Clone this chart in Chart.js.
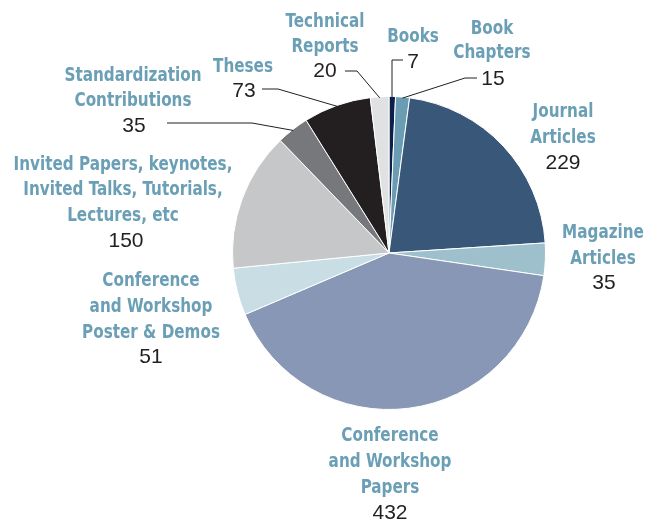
<!DOCTYPE html>
<html>
<head>
<meta charset="utf-8">
<script src="https://cdn.jsdelivr.net/npm/chart.js@4.4.1/dist/chart.umd.min.js"></script>
<style>
  html, body { margin: 0; padding: 0; background: #fff; }
  #wrap { width: 651px; height: 525px; }
</style>
</head>
<body>
<div id="wrap"><canvas id="pie" width="651" height="525"></canvas></div>
<script>
// publication counts, clockwise from the top
const categories = [
  'Books',
  'Book\nChapters',
  'Journal\nArticles',
  'Magazine\nArticles',
  'Conference\nand Workshop\nPapers',
  'Conference\nand Workshop\nPoster & Demos',
  'Invited Papers, keynotes,\nInvited Talks, Tutorials,\nLectures, etc',
  'Standardization\nContributions',
  'Theses',
  'Technical\nReports'
]
const counts = [7, 15, 229, 35, 432, 51, 150, 35, 73, 20]
const sliceColors = [
  '#0b1f4a', '#6a9db3', '#395779', '#9dc0cc', '#8797b5',
  '#c8dde4', '#c6c7c9', '#77787b', '#231f20', '#e0e1e3'
]

// where each label sits (x centre, baselines of the name lines, number) and the leader bends
const labelLayout = [
  { x: 413, lines: [42], num: [413, 68], leader: [[392, 60], [403, 60]], vertical: true },
  { x: 492, lines: [34, 58], num: [493, 85], leader: [[465, 78], [477, 78]] },
  { x: 563, lines: [117, 143], num: [563, 169] },
  { x: 603, lines: [238, 264], num: [604, 289] },
  { x: 390, lines: [441, 467, 493], num: [390, 519] },
  { x: 151, lines: [286, 312, 338], num: [151, 363] },
  { x: 123, lines: [170, 195, 221], num: [126, 247] },
  { x: 133, lines: [81, 106], num: [134, 132], leader: [[252, 123], [167, 123]] },
  { x: 243, lines: [72], num: [244, 97], leader: [[278, 89], [262, 89]] },
  { x: 325, lines: [27, 52], num: [325, 77], leader: [[357, 71], [345, 71]] }
]

const labelFont = 'bold 19px "DejaVu Sans Condensed", sans-serif'
const labelSqueeze = 0.89   // the original type is narrower than DejaVu Condensed
const numFont = '21px "Liberation Sans", Arial, sans-serif'

const pieLabels = {
  id: 'pieLabels',
  afterDatasetsDraw(chart) {
    const ctx = chart.ctx
    const arcs = chart.getDatasetMeta(0).data
    ctx.save()
    arcs.forEach((arc, i) => {
      const lay = labelLayout[i]
      if (!lay) return
      // leader line from the middle of the slice edge
      if (lay.leader) {
        const p = arc.getProps(['x', 'y', 'startAngle', 'endAngle', 'outerRadius'], true)
        const mid = (p.startAngle + p.endAngle) / 2
        let sx = p.x + Math.cos(mid) * (p.outerRadius - 1)
        let sy = p.y + Math.sin(mid) * (p.outerRadius - 1)
        ctx.beginPath()
        if (lay.vertical) sx = lay.leader[0][0]
        ctx.moveTo(sx, sy)
        lay.leader.forEach(pt => ctx.lineTo(pt[0], pt[1]))
        ctx.strokeStyle = '#231f20'
        ctx.lineWidth = 1
        ctx.stroke()
      }
      ctx.textAlign = 'center'
      ctx.textBaseline = 'alphabetic'
      ctx.font = labelFont
      ctx.fillStyle = '#6a9fb5'
      categories[i].split('\n').forEach((line, k) => {
        ctx.save()
        ctx.translate(lay.x, lay.lines[k])
        ctx.scale(labelSqueeze, 1)
        ctx.fillText(line, 0, 0)
        ctx.restore()
      })
      ctx.font = numFont
      ctx.fillStyle = '#231f20'
      ctx.fillText(String(counts[i]), lay.num[0], lay.num[1])
    })
    ctx.restore()
  }
}

new Chart(document.getElementById('pie').getContext('2d'), {
  type: 'pie',
  data: {
    labels: categories,
    datasets: [{
      data: counts,
      backgroundColor: sliceColors,
      borderColor: '#ffffff',
      borderWidth: 1
    }]
  },
  options: {
    responsive: false,
    animation: false,
    layout: { padding: { left: 232, right: 105, top: 96, bottom: 115 } },
    plugins: {
      legend: { display: false },
      tooltip: { enabled: false }
    }
  },
  plugins: [pieLabels]
})
</script>
</body>
</html>
